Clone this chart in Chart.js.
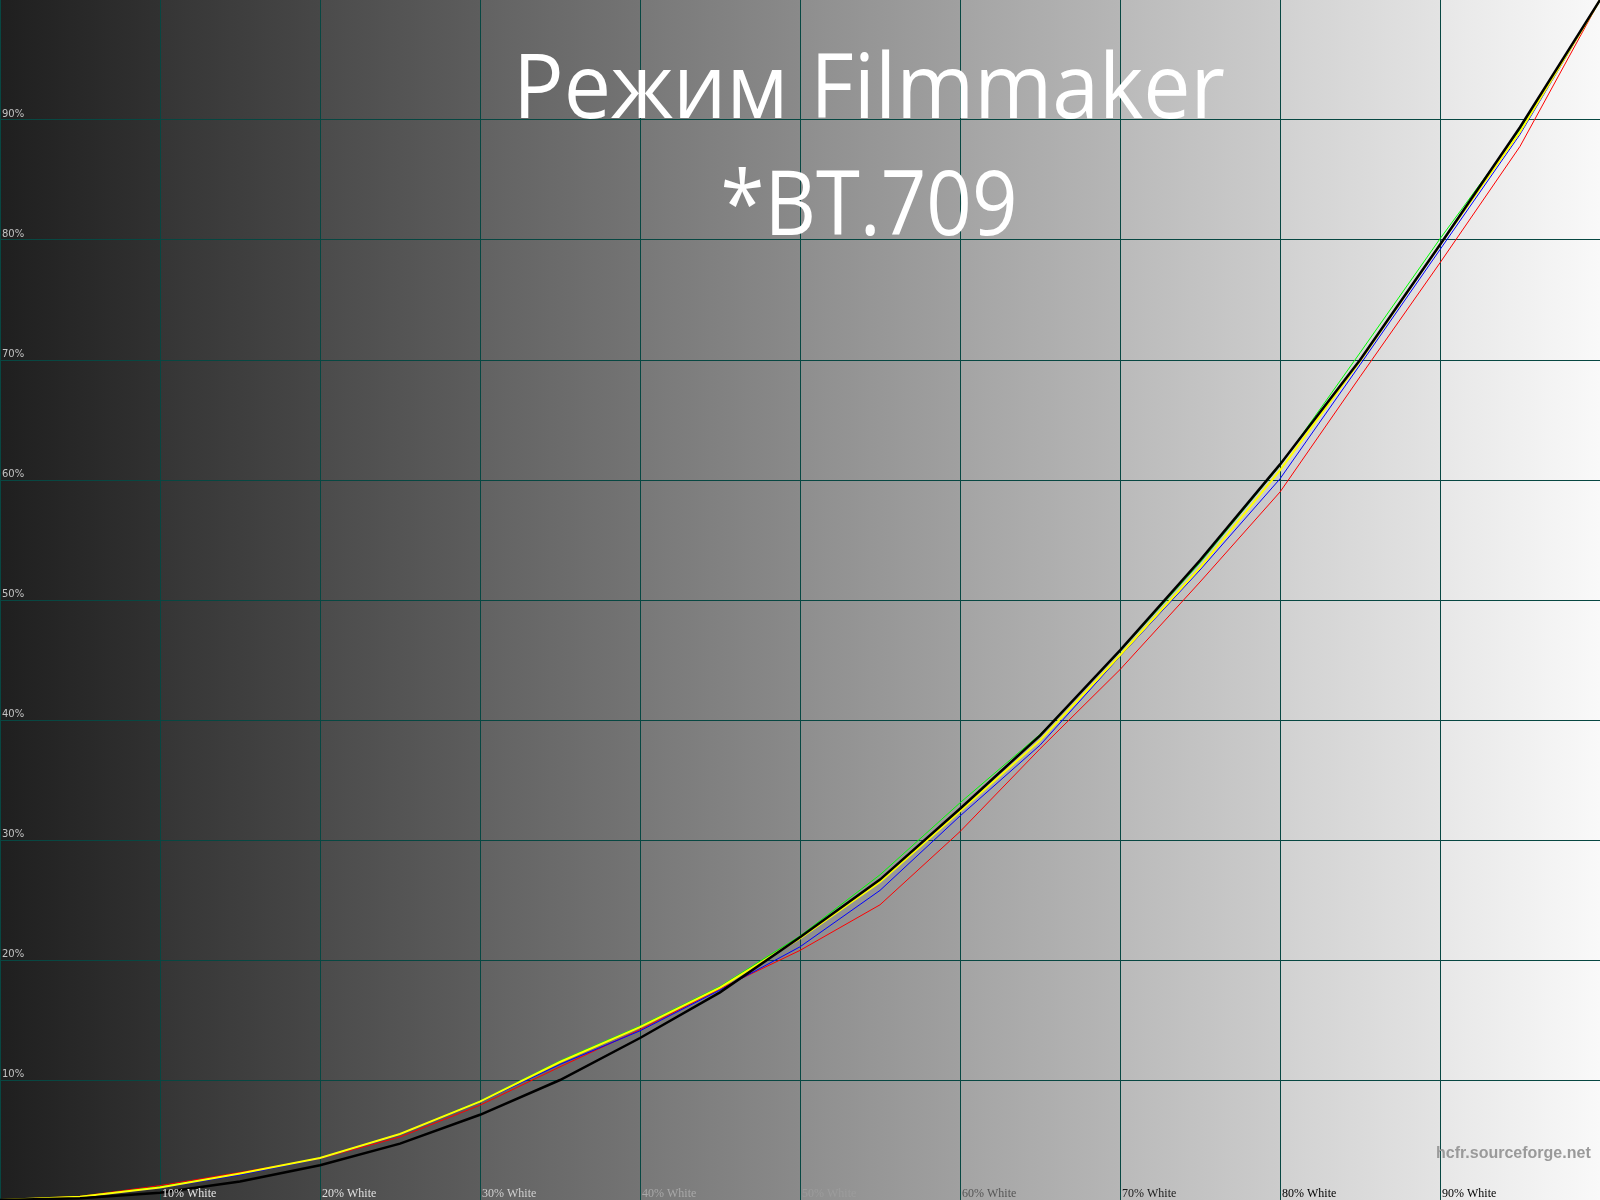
<!DOCTYPE html>
<html>
<head>
<meta charset="utf-8">
<script src="https://cdn.jsdelivr.net/npm/chart.js@4"></script>
<style>
  html, body { margin: 0; padding: 0; background: #000; }
  canvas { display: block; }
</style>
</head>
<body>
<canvas id="gamma" width="1600" height="1200"></canvas>
<script>
// stimulus level, % white
const levels = [0, 5, 10, 15, 20, 25, 30, 35, 40, 45, 50, 55, 60, 65, 70, 75, 80, 85, 90, 95, 100];
// reference curve (black)
const reference = [0, 0.14, 0.6, 1.55, 2.9, 4.7, 7.1, 10.0, 13.5, 17.3, 21.9, 26.7, 32.6, 38.7, 45.8, 53.3, 61.3, 70.0, 79.6, 89.4, 100];
// measured luminance (yellow) and channels
const lumY = [0, 0.28, 1.05, 2.2, 3.5, 5.5, 8.2, 11.5, 14.4, 17.7, 21.8, 26.5, 32.4, 38.3, 45.4, 52.7, 60.8, 69.9, 79.6, 89.0, 100];
const red = [0, 0.3, 1.2, 2.3, 3.45, 5.25, 7.9, 11.1, 14.2, 17.6, 20.8, 24.6, 30.7, 37.6, 44.2, 51.5, 59.0, 68.6, 78.1, 87.8, 100];
const green = [0, 0.28, 1.1, 2.2, 3.5, 5.5, 8.25, 11.6, 14.5, 17.8, 22.0, 27.1, 33.1, 38.8, 45.7, 53.1, 61.2, 70.6, 80.1, 89.2, 100];
const blue = [0, 0.25, 1.0, 2.1, 3.45, 5.45, 8.15, 11.3, 14.1, 17.5, 21.1, 25.8, 32.0, 37.9, 45.3, 52.5, 60.1, 69.6, 79.2, 88.8, 100];

const yTicks = [10, 20, 30, 40, 50, 60, 70, 80, 90];
const xTicks = [10, 20, 30, 40, 50, 60, 70, 80, 90];
const xTickLabels = ["10% White", "20% White", "30% White", "40% White", "50% White", "60% White", "70% White", "80% White", "90% White"];
const xTickColors = ["#e6e6e6", "#e0e0e0", "#d0d0d0", "#a8a8a8", "#9c9c9c", "#555555", "#1a1a1a", "#000000", "#000000"];

const titleLines = ["Режим Filmmaker", "*BT.709"];
const watermark = "hcfr.sourceforge.net";

function toPoints(values) {
  return levels.map((l, i) => ({ x: l, y: values[i] }));
}

// draw text squeezed to a given width (title font is narrower than Open Sans)
function fitText(ctx, text, cx, baseline, width) {
  const w = ctx.measureText(text).width;
  ctx.save();
  ctx.translate(cx, baseline);
  ctx.scale(width / w, 1);
  ctx.fillText(text, 0, 0);
  ctx.restore();
}

const backdrop = {
  id: "backdrop",
  beforeDraw(chart) {
    const ctx = chart.ctx;
    const xs = chart.scales.x;
    const area = chart.chartArea;
    ctx.save();
    for (let i = 0; i < 10; i++) {
      const x0 = xs.getPixelForValue(i * 10);
      const x1 = xs.getPixelForValue(i * 10 + 10);
      const a = Math.round(31 + 22.2 * i);
      const b = Math.round(31 + 22.2 * i + 18);
      const g = ctx.createLinearGradient(x0, 0, x1, 0);
      g.addColorStop(0, `rgb(${a},${a},${a})`);
      g.addColorStop(1, `rgb(${b},${b},${b})`);
      ctx.fillStyle = g;
      ctx.fillRect(x0, area.top, x1 - x0, area.bottom - area.top);
    }
    ctx.restore();
  }
};

const labels = {
  id: "labels",
  afterDatasetsDraw(chart) {
    const ctx = chart.ctx;
    const xs = chart.scales.x;
    const ys = chart.scales.y;
    ctx.save();
    // y tick labels
    ctx.font = "10px 'DejaVu Sans'";
    ctx.fillStyle = "#c2c2c2";
    ctx.textBaseline = "alphabetic";
    ctx.textAlign = "left";
    yTicks.forEach(v => {
      ctx.fillText(v + "%", 2, ys.getPixelForValue(v) - 3);
    });
    // x tick labels
    ctx.font = "12px 'Liberation Serif'";
    xTicks.forEach((v, i) => {
      ctx.fillStyle = xTickColors[i];
      ctx.fillText(xTickLabels[i], xs.getPixelForValue(v) + 2, 1197);
    });
    // title
    ctx.fillStyle = "#ffffff";
    ctx.textAlign = "center";
    ctx.font = "90px 'Open Sans'";
    fitText(ctx, titleLines[0], 869, 118, 712);
    fitText(ctx, titleLines[1], 869, 235, 297);
    // watermark
    ctx.font = "bold 16px 'Liberation Sans'";
    ctx.fillStyle = "#9a9a9a";
    ctx.textAlign = "left";
    ctx.fillText(watermark, 1436, 1158);
    ctx.restore();
  }
};

function gridColor(c) {
  return (c.tick && c.tick.value >= 100) ? "rgba(0,0,0,0)" : "#074742";
}

new Chart("gamma", {
  type: "line",
  data: {
    datasets: [
      { label: "Reference", data: toPoints(reference), borderColor: "#000000", borderWidth: 2.5, order: 0 },
      { label: "Y", data: toPoints(lumY), borderColor: "#ffff00", borderWidth: 2, order: 1 },
      { label: "Blue", data: toPoints(blue), borderColor: "#0000ff", borderWidth: 1, order: 2 },
      { label: "Green", data: toPoints(green), borderColor: "#00ff00", borderWidth: 1, order: 3 },
      { label: "Red", data: toPoints(red), borderColor: "#ff0000", borderWidth: 1, order: 4 }
    ]
  },
  options: {
    responsive: false,
    animation: false,
    layout: { padding: 0 },
    elements: { point: { radius: 0 }, line: { tension: 0 } },
    plugins: { legend: { display: false }, tooltip: { enabled: false }, title: { display: false } },
    scales: {
      x: {
        type: "linear", min: 0, max: 100,
        ticks: { stepSize: 10, display: false },
        grid: { color: gridColor, drawTicks: false, lineWidth: 1 },
        border: { display: false },
        afterFit: (scale) => { scale.height = 0; }
      },
      y: {
        type: "linear", min: 0, max: 100,
        ticks: { stepSize: 10, display: false },
        grid: { color: gridColor, drawTicks: false, lineWidth: 1 },
        border: { display: false },
        afterFit: (scale) => { scale.width = 0; }
      }
    }
  },
  plugins: [backdrop, labels]
});
</script>
</body>
</html>
